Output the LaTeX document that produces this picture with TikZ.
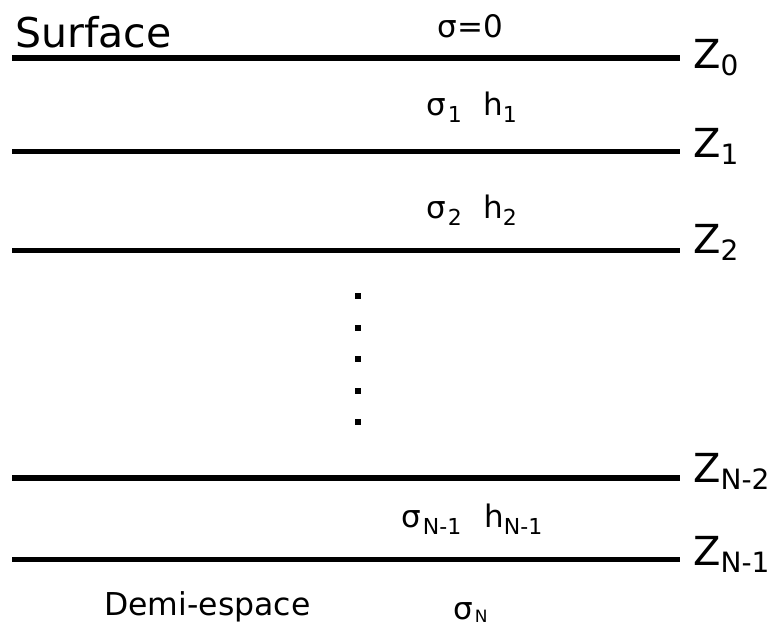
\documentclass[tikz,border=0pt]{standalone}
\usepackage{fontspec}
\setmainfont{DejaVu Sans}
\newcommand\mysub[3]{\raisebox{-#2pt}{\fontsize{#1}{#1}\selectfont #3}}
\begin{document}
\begin{tikzpicture}[x=1pt,y=-1pt,
  layer/.style={line width=4.5pt, line cap=butt},
  lbl/.style={inner sep=0pt, anchor=base west, font=\fontsize{31}{33}\selectfont},
  zlbl/.style={inner sep=0pt, anchor=base west, font=\fontsize{40}{44}\selectfont},
  dotsq/.style={fill=black, minimum size=6pt, inner sep=0pt}]
\useasboundingbox (0,0) rectangle (771,627);
% interfaces
\draw[layer, line width=6pt] (12,57.5) -- (680,57.5);
\draw[layer] (12,151.5) -- (680,151.5);
\draw[layer, line width=5pt] (12,250) -- (680,250);
\draw[layer, line width=5.5pt] (12,478) -- (680,478);
\draw[layer] (12,559.5) -- (680,559.5);
% Z labels
\node[zlbl] (z0) at (693,68) {Z\mysub{28}{7.5}{0}};
\node[zlbl] (z1) at (693,157) {Z\mysub{28}{7.5}{1}};
\node[zlbl] (z2) at (693,253) {Z\mysub{28}{7.5}{2}};
\node[zlbl] (zn2) at (693,482) {Z\mysub{28}{7.5}{N-2}};
\node[zlbl] (zn1) at (693,565) {Z\mysub{28}{7.5}{N-1}};
% texts
\node[zlbl, font=\fontsize{41}{44}\selectfont] (surf) at (15.3,47) {Surface};
\node[lbl] (s0) at (437.5,37) {σ=0};
\node[lbl] (s1) at (426.3,115) {σ\hspace{1.6pt}\mysub{22}{7}{1}\hspace{21.6pt}h\mysub{22}{7}{1}};
\node[lbl] (s2) at (426.3,218) {σ\hspace{1.6pt}\mysub{22}{7}{2}\hspace{21.6pt}h\mysub{22}{7}{2}};
\node[lbl] (sn1) at (401.3,527) {σ\hspace{1.8pt}\mysub{22}{7}{N-1}\hspace{23pt}h\mysub{22}{7}{N-1}};
\node[lbl] (sn) at (453.5,619) {σ\hspace{1.5pt}\mysub{17}{3.5}{N}};
\node[lbl, font=\fontsize{31.5}{33}\selectfont] (demi) at (104,615) {Demi-espace};
% dots
\node[dotsq] (d1) at (357.5,296) {};
\node[dotsq] (d2) at (357.5,327.5) {};
\node[dotsq] (d3) at (357.5,359) {};
\node[dotsq] (d4) at (357.5,391) {};
\node[dotsq] (d5) at (357.5,422) {};
\end{tikzpicture}
\end{document}
